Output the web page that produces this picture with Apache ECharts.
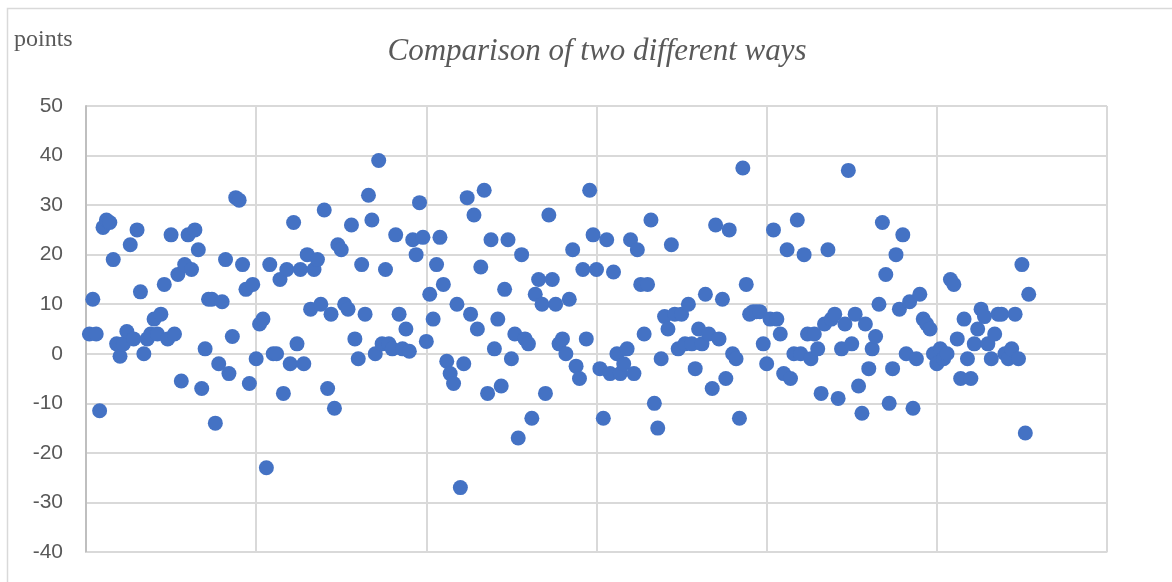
<!DOCTYPE html>
<html>
<head>
<meta charset="utf-8">
<script src="https://cdn.jsdelivr.net/npm/echarts@6/dist/echarts.min.js"></script>
<style>
html,body{margin:0;padding:0;background:#fff;}
#c{width:1172px;height:582px;}
</style>
</head>
<body>
<div id="c"></div>
<script>
const titleText = "Comparison of two different ways";
const yAxisName = "points";
const yTicks = [-40, -30, -20, -10, 0, 10, 20, 30, 40, 50];
const values = [
4,11,4,-11.5,25.5,27,26.5,19,2,-0.5,
2,4.5,22,3,25,12.5,0,3,4,7,
4,8,14,3,24,4,16,-5.5,18,24,
17,25,21,-7,1,11,11,-14,-2,10.5,
19,-4,3.5,31.5,31,18,13,-6,14,-1,
6,7,-23,18,0,0,15,-8,17,-2,
26.5,2,17,-2,20,9,17,19,10,29,
-7,8,-11,22,21,10,9,26,3,-1,
18,8,32,27,0,39,2,17,2,1,
24,8,1,5,0.5,23,20,30.5,23.5,2.5,
12,7,18,23.5,14,-1.5,-4,-6,10,-27,
-2,31.5,8,28,5,17.5,33,-8,23,1,
7,-6.5,13,23,-1,4,-17,20,3,2,
-13,12,15,10,-8,28,15,10,2,3,
0,11,21,-2.5,-5,17,3,33,24,17,
-3,-13,23,-4,16.5,0,-4,-2,1,23,
-4,21,14,4,14,27,-10,-15,-1,7.5,
5,22,8,1,8,2,10,2,-3,5,
2,12,4,-7,26,3,11,-5,25,0,
-1,-13,37.5,14,8,8.5,8.5,8.5,2,-2,
7,25,7,4,-4,21,-5,0,27,0,
20,4,-1,4,1,-8,6,21,7,8,
-9,1,6,37,2,8,-6.5,-12,6,-3,
1,3.5,10,26.5,16,-10,-3,20,9,24,
0,10.5,-11,-1,12,7,6,5,0,-2,
1,-1,0,15,14,3,-5,7,-1,-5,
2,5,9,7.5,2,-1,4,8,8,0,
-1,1,8,-1,18,-16,12
];
const points = values.map((v, i) => [i + 1, v]);

const chart = echarts.init(document.getElementById('c'));
chart.setOption({
  animation: false,
  backgroundColor: '#ffffff',
  graphic: [{
    type: 'rect',
    shape: { x: 7.5, y: 8.5, width: 1180, height: 600 },
    style: { fill: 'none', stroke: '#d9d9d9', lineWidth: 1.5 },
    silent: true
  }, {
    type: 'text',
    left: 14, top: 28,
    style: { text: yAxisName, font: '24px "Liberation Serif", serif', fill: '#595959' }
  }],
  title: {
    text: titleText,
    left: 592, top: 31, textAlign: 'center',
    textStyle: { fontFamily: '"Liberation Serif", serif', fontStyle: 'italic', fontWeight: 'normal', fontSize: 31, color: '#595959' }
  },
  grid: { left: 86, right: 65, top: 106, bottom: 30, containLabel: false },
  xAxis: {
    type: 'value', min: 0, max: 300, interval: 50,
    axisLabel: { show: false },
    axisTick: { show: false },
    axisLine: { show: true, onZero: false, lineStyle: { color: '#d9d9d9', width: 1 } },
    splitLine: { show: true, lineStyle: { color: '#d9d9d9', width: 2 } }
  },
  yAxis: {
    type: 'value', min: -40, max: 50, interval: 10,
    axisLabel: { color: '#595959', fontSize: 21, fontFamily: '"Liberation Sans", Arial, sans-serif', margin: 23,
      formatter: v => yTicks.includes(v) ? String(v) : '' },
    axisTick: { show: false },
    axisLine: { show: true, onZero: false, lineStyle: { color: '#bfbfbf', width: 2 } },
    splitLine: { show: true, lineStyle: { color: '#d9d9d9', width: 2 } }
  },
  series: [{
    type: 'scatter',
    data: points,
    symbol: 'circle',
    symbolSize: 15,
    itemStyle: { color: '#4472C4', opacity: 1 }
  }]
});
</script>
</body>
</html>
